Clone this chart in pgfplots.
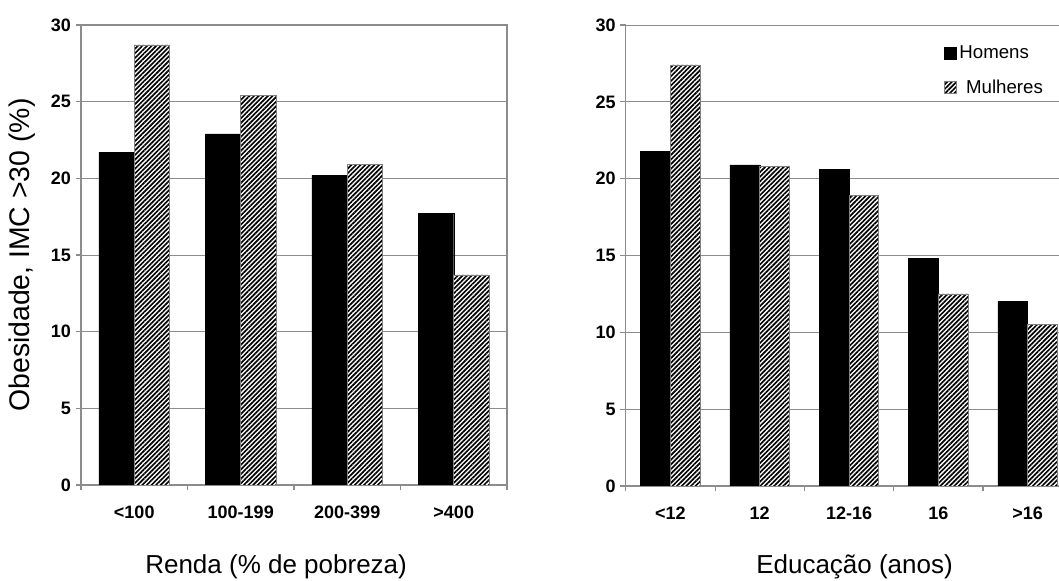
\documentclass[border=0pt]{standalone}
\usepackage{pgfplots}
\pgfplotsset{compat=1.18}
\usepackage{fontspec}
\setmainfont{Liberation Sans}
\usetikzlibrary{patterns.meta}

\definecolor{gridgray}{RGB}{140,140,140}

\tikzset{
  hombar/.style={fill=black, draw=black, line width=0.3pt},
  mulbar/.style={fill=white, draw=gray, line width=0.5pt,
    postaction={pattern={Lines[angle=45,distance=2.45pt,line width=1.25pt]}, pattern color=black}},
}

\pgfplotsset{
  sqlegend/.style={legend image code/.code={\draw[##1] (0pt,-4.5pt) rectangle (9pt,4.5pt);}},
  panel/.style={
    scale only axis,
    ymin=0, ymax=30, ytick={0,5,...,30},
    ymajorgrids,
    grid style={gridgray, line width=0.6pt},
    axis line style={gridgray, line width=0.8pt},
    tick style={gridgray, line width=0.8pt},
    tick align=outside,
    tick pos=left,
    major tick length=4pt,
    /pgf/number format/assume math mode=true,
    ticklabel style={font=\bfseries\fontsize{13.5}{13.5}\selectfont},
    label style={font=\fontsize{19.5}{21}\selectfont},
    xticklabels={},
    extra x tick style={major tick length=0pt, tick label style={yshift=-12pt}},
    enlargelimits=false,
    clip=true,
  },
}

\begin{document}
\begin{tikzpicture}
% ---------- left panel: income ----------
\begin{axis}[panel,
  at={(60.75pt,72pt)}, anchor=south west,
  width=319.5pt, height=345pt,
  xmin=-0.5, xmax=3.5,
  xtick={-0.5,0.5,1.5,2.5,3.5},
  extra x ticks={0,1,2,3},
  extra x tick labels={{<100},{100-199},{200-399},{>400}},
  xlabel={Renda (\% de pobreza)},
  xlabel style={at={(axis description cs:0.458,-0.178)}, anchor=center},
  ylabel={Obesidade, IMC >30 (\%)},
  ylabel style={at={(axis description cs:-0.1385,0.5)}, anchor=center,
    font=\fontsize{21.3}{23}\selectfont},
]
\addplot[ybar, bar width=0.3333, bar shift=-0.16667, hombar]
  coordinates {(0,21.7) (1,22.9) (2,20.2) (3,17.7)};
\addplot[ybar, bar width=0.3333, bar shift=0.16667, mulbar]
  coordinates {(0,28.7) (1,25.4) (2,20.9) (3,13.7)};
\end{axis}
% ---------- right panel: education ----------
\begin{axis}[panel,
  at={(469.3pt,71.25pt)}, anchor=south west,
  width=325pt, height=345.75pt,
  axis x line*=bottom, axis y line*=left,
  tick align=outside,
  xmin=-0.5, xmax=4.352,
  xtick={-0.5,0.5,1.5,2.5,3.5},
  extra x ticks={0,1,2,3,4},
  extra x tick labels={{<12},{12},{12-16},{16},{>16}},
  xlabel={Educação (anos)},
  xlabel style={at={(axis description cs:0.528,-0.176)}, anchor=center},
  legend style={at={(axis description cs:0.734,0.962)}, anchor=north west,
    draw=none, fill=none, font=\fontsize{14}{16}\selectfont,
    row sep=10.5pt, inner sep=0pt, cells={anchor=west}},
]
\addplot[ybar, bar width=0.3333, bar shift=-0.16667, hombar, sqlegend]
  coordinates {(0,21.8) (1,20.9) (2,20.6) (3,14.8) (4,12.0)};
\addlegendentry{Homens}
\addplot[ybar, bar width=0.3333, bar shift=0.16667, mulbar, sqlegend]
  coordinates {(0,27.4) (1,20.8) (2,18.9) (3,12.5) (4,10.5)};
\addlegendentry{\hspace{5pt}Mulheres}
\end{axis}
\pgfresetboundingbox
\path[use as bounding box] (0,0) rectangle (794.25pt,435.75pt);
\end{tikzpicture}
\end{document}
